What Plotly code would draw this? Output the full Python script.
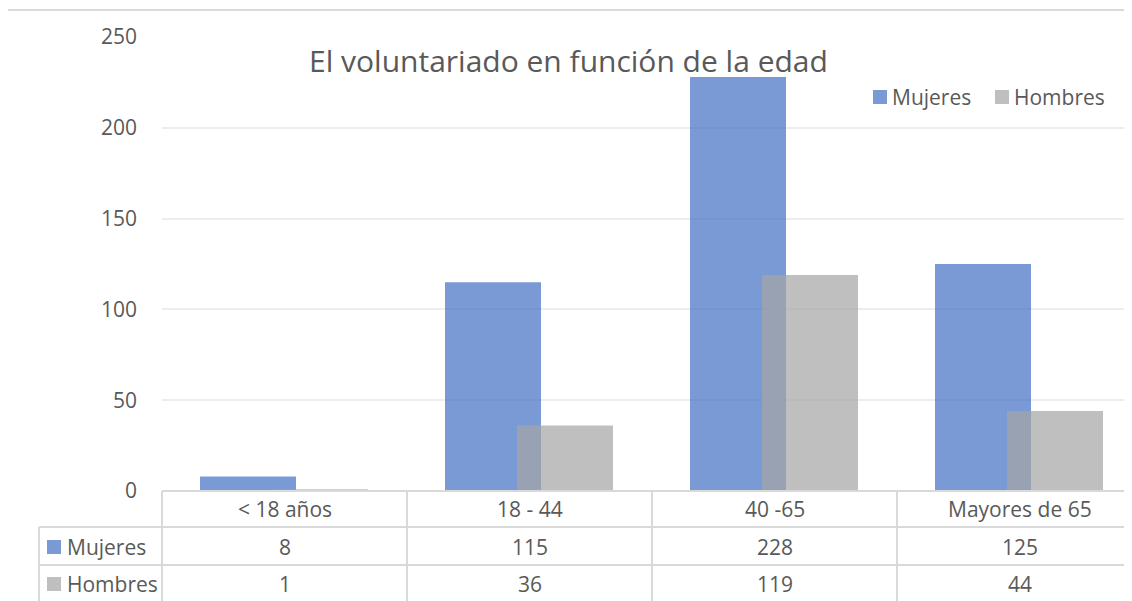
import plotly.graph_objects as go

# data
categories = ["< 18 años", "18 - 44", "40 -65", "Mayores de 65"]
mujeres = [8, 115, 228, 125]
hombres = [1, 36, 119, 44]
series_names = ["Mujeres", "Hombres"]
y_ticks = [0, 50, 100, 150, 200, 250]
title_text = "El voluntariado en función de la edad"

W, H = 1132, 601
OFF = 8  # page body margin, positions below are screen pixels
L, R, T, B = 162 - OFF, 0, 37 - OFF, H - (491 - OFF)
PW, PH = W - L - R, H - T - B
CAT_PX = 245  # width of one category column in px
X_RANGE = [-0.5, -0.5 + PW / CAT_PX]

BLUE = "rgba(68,114,196,0.714)"
GRAY = "rgba(165,165,165,0.714)"
TEXT = "#595959"
LINE = "#D9D9D9"
FONT = "Open Sans"
FS = 21


def px_x(px):
    return (px - OFF - L) / PW


def px_y(py):
    return (H - B - (py - OFF)) / PH


fig = go.Figure()
fig.add_trace(go.Bar(
    x=categories, y=mujeres, name=series_names[0],
    marker={"color": BLUE, "line": {"width": 0}},
    width=96 / CAT_PX, offset=-84.5 / CAT_PX,
))
fig.add_trace(go.Bar(
    x=categories, y=hombres, name=series_names[1],
    marker={"color": GRAY, "line": {"width": 0}},
    width=96 / CAT_PX, offset=-12.5 / CAT_PX,
))

shapes = []


def hline(py, x0, x1, width=2):
    shapes.append(dict(type="line", xref="paper", yref="paper",
                       x0=px_x(x0), x1=px_x(x1), y0=px_y(py), y1=px_y(py),
                       line={"color": LINE, "width": width}))


def vline(px, y0, y1, width=2):
    shapes.append(dict(type="line", xref="paper", yref="paper",
                       x0=px_x(px), x1=px_x(px), y0=px_y(y0), y1=px_y(y1),
                       line={"color": LINE, "width": width}))


# outer chart border
hline(10, 6, W + 20)
vline(6, 10, H + 20)
# data table grid
hline(491, 162, W + 20)
hline(527, 39, W + 20)
hline(565, 39, W + 20)
vline(39, 527, H + 20)
for i in range(len(categories)):
    vline(162 + i * CAT_PX, 491, H + 20)

annotations = []
# header row and value rows
rows = [(509, categories), (547, mujeres), (584, hombres)]
for cy, vals in rows:
    for cat, v in zip(categories, vals):
        annotations.append(dict(x=cat, xref="x", y=px_y(cy), yref="paper",
                                text=str(v), showarrow=False,
                                xanchor="center", yanchor="middle",
                                font={"size": FS, "color": TEXT, "family": FONT}))

# row labels with colour keys
for cy, name, col in [(547, series_names[0], BLUE), (584, series_names[1], GRAY)]:
    shapes.append(dict(type="rect", xref="paper", yref="paper",
                       x0=px_x(47), x1=px_x(61), y0=px_y(cy - 7), y1=px_y(cy + 7),
                       fillcolor=col, line={"width": 0}))
    annotations.append(dict(x=px_x(65), xref="paper", y=px_y(cy), yref="paper",
                            text=name, showarrow=False, xanchor="left", yanchor="middle",
                            font={"size": FS, "color": TEXT, "family": FONT}))

# legend
for x0, name, col in [(873, series_names[0], BLUE), (995, series_names[1], GRAY)]:
    shapes.append(dict(type="rect", xref="paper", yref="paper",
                       x0=px_x(x0), x1=px_x(x0 + 14), y0=px_y(90), y1=px_y(104),
                       fillcolor=col, line={"width": 0}))
    annotations.append(dict(x=px_x(x0 + 17), xref="paper", y=px_y(97), yref="paper",
                            text=name, showarrow=False, xanchor="left", yanchor="middle",
                            font={"size": FS, "color": TEXT, "family": FONT}))

# title
annotations.append(dict(x=px_x(568), xref="paper", y=px_y(61), yref="paper",
                        text=title_text, showarrow=False, xanchor="center", yanchor="middle",
                        font={"size": 30, "color": TEXT, "family": FONT}))

fig.update_layout(
    width=W, height=H,
    margin={"l": L, "r": R, "t": T, "b": B},
    barmode="overlay",
    showlegend=False,
    plot_bgcolor="white", paper_bgcolor="white",
    shapes=shapes, annotations=annotations,
    font={"family": FONT, "color": TEXT},
)
fig.update_xaxes(type="category", range=X_RANGE, showticklabels=False,
                 showgrid=False, zeroline=False, showline=False, ticks="")
fig.update_yaxes(range=[0, 250], tickvals=y_ticks, showgrid=True,
                 gridcolor="#EDEDED", gridwidth=1.5, zeroline=False, showline=False,
                 ticks="", ticklabelstandoff=24,
                 tickfont={"size": FS, "color": TEXT, "family": FONT})

fig.write_html("out.html")
